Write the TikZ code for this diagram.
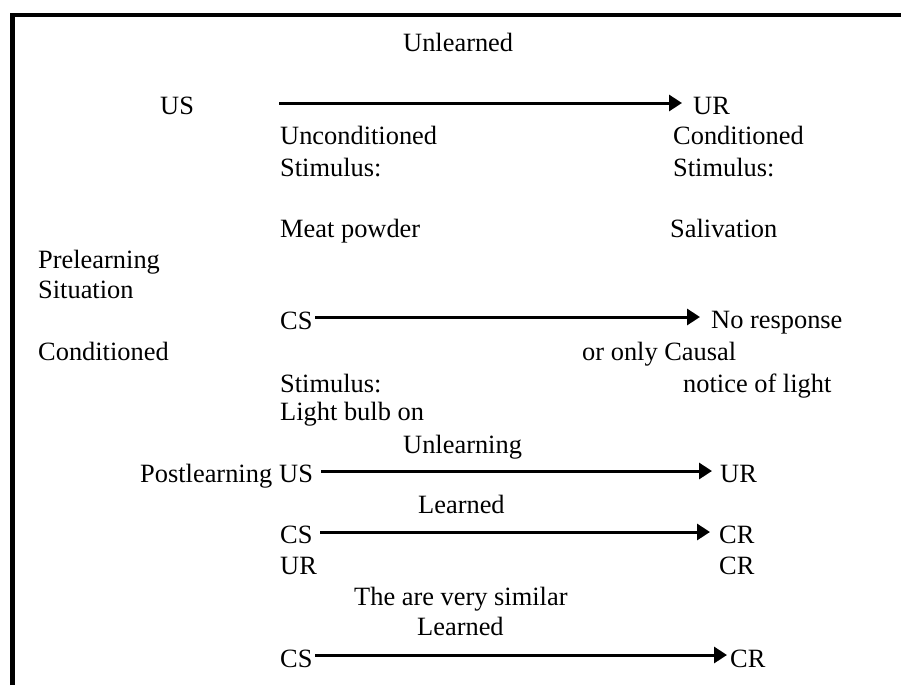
\documentclass[tikz,border=0pt]{standalone}
\usepackage{fontspec}
\setmainfont{Liberation Serif}
\usetikzlibrary{arrows.meta}
\begin{document}
\begin{tikzpicture}[x=1pt,y=-1pt,
  lbl/.style={inner sep=0pt,anchor=base west,font=\fontsize{26.4}{34}\selectfont},
  arr/.style={line width=3pt,-{Triangle[length=13pt,width=16pt]}},
  frame/.style={line width=4.2pt}]
\useasboundingbox (0,0) rectangle (901,685);
% frame
\coordinate (f1) at (12.5,685);
\coordinate (f2) at (12.5,15);
\coordinate (f3) at (901,15);
\draw[frame] (f1) -- (f2) -- (f3);
% row 1
\node[lbl] (unl) at (403,52) {Unlearned};
\node[lbl] (us1) at (160,114) {US};
\node[lbl] (ur1) at (693,114) {UR};
\coordinate (a1) at (279,103);
\draw[arr,shorten >=11pt] (a1) -- (a1 -| ur1.west);
\node[lbl] (unc) at (280,144) {Unconditioned};
\node[lbl] (st1) at (280,176) {Stimulus:};
\node[lbl] (con1) at (673,144) {Conditioned};
\node[lbl] (st2) at (673,176) {Stimulus:};
\node[lbl] (meat) at (280,237) {Meat powder};
\node[lbl] (sal) at (670,237) {Salivation};
\node[lbl] (pre) at (38,268) {Prelearning};
\node[lbl] (sit) at (38,298) {Situation};
% CS row
\node[lbl] (cs1) at (280,329) {CS};
\node[lbl] (nor) at (711,328) {No response};
\coordinate (a2) at (315,317);
\draw[arr,shorten >=11pt] (a2) -- (a2 -| nor.west);
\node[lbl] (con2) at (38,360) {Conditioned};
\node[lbl] (ooc) at (582,360) {or only Causal};
\node[lbl] (st3) at (280,392) {Stimulus:};
\node[lbl] (nol) at (683,392) {notice of light};
\node[lbl] (lbo) at (280,420) {Light bulb on};
% postlearning
\node[lbl] (unlg) at (403,453) {Unlearning};
\node[lbl] (post) at (140,482) {Postlearning};
\node[lbl] (us2) at (279,482) {US};
\node[lbl] (ur2) at (720,482) {UR};
\coordinate (a3) at (321,471);
\draw[arr,shorten >=8pt] (a3) -- (a3 -| ur2.west);
\node[lbl] (lrn1) at (418,513) {Learned};
\node[lbl] (cs2) at (280,543) {CS};
\node[lbl] (cr1) at (719,543) {CR};
\coordinate (a4) at (320,532);
\draw[arr,shorten >=9pt] (a4) -- (a4 -| cr1.west);
\node[lbl] (ur3) at (280,574) {UR};
\node[lbl] (cr2) at (719,574) {CR};
\node[lbl] (sim) at (354,605) {The are very similar};
\node[lbl] (lrn2) at (417,635) {Learned};
\node[lbl] (cs3) at (280,667) {CS};
\node[lbl] (cr3) at (730,667) {CR};
\coordinate (a5) at (315,655);
\draw[arr,shorten >=3pt] (a5) -- (a5 -| cr3.west);
\end{tikzpicture}
\end{document}
